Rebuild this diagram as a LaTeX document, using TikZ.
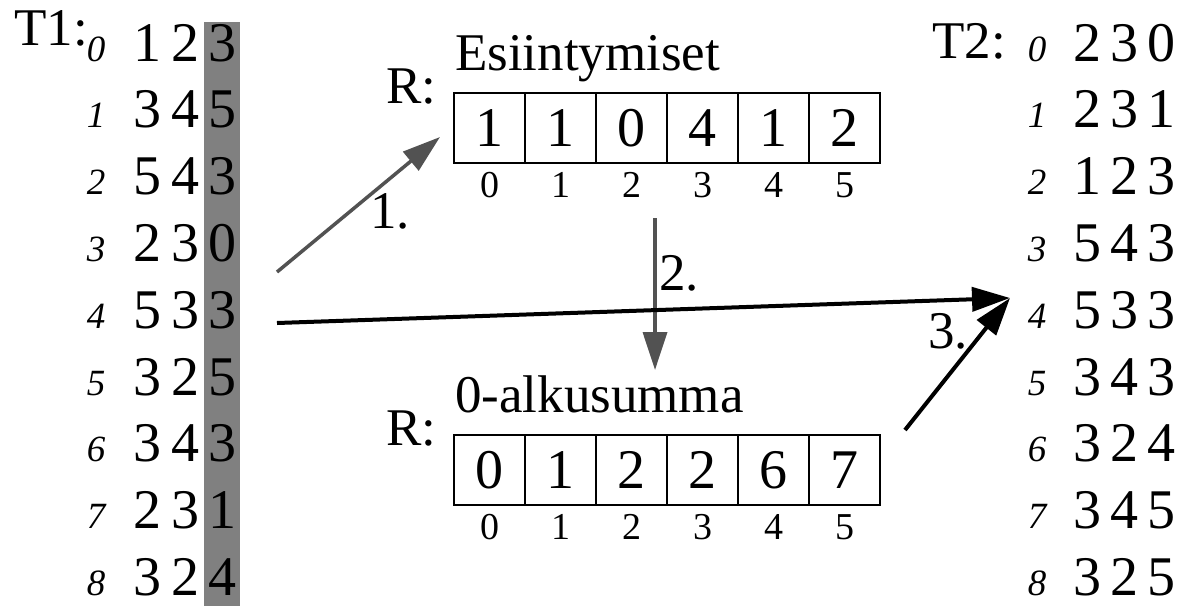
\documentclass[tikz,border=0pt]{standalone}
\usepackage{fontspec}
\setmainfont{Liberation Serif}
\usetikzlibrary{arrows.meta}
\begin{document}
\begin{tikzpicture}[x=1pt,y=-1pt,
  lbl/.style={font=\fontsize{56}{62}\selectfont, inner sep=0pt, anchor=base},
  ttl/.style={font=\fontsize{53}{60}\selectfont, inner sep=0pt, anchor=base west},
  idx/.style={font=\fontsize{37}{42}\selectfont\itshape, inner sep=0pt, anchor=base},
  cell/.style={draw, line width=1.5pt, minimum width=71pt, minimum height=70pt, inner sep=0pt, font=\fontsize{56}{62}\selectfont},
  cidx/.style={font=\fontsize{38}{44}\selectfont, inner sep=0pt, anchor=base},
  garrow/.style={draw=black!68, line width=3.5pt, -{Triangle[length=38pt,width=24pt]}},
  barrow/.style={draw=black, line width=4pt, -{Triangle[length=38pt,width=24pt]}},
  colbar/.style={fill=black!50, draw=none}
]
\useasboundingbox (0,0) rectangle (1180,606);
% shaded key column of T1
\path[colbar] (204,22) rectangle (240,606);
% T1
\node[ttl] (t1) at (14,45) {T1:};
\foreach \i/\a/\b/\c in {0/1/2/3,1/3/4/5,2/5/4/3,3/2/3/0,4/5/3/3,5/3/2/5,6/3/4/3,7/2/3/1,8/3/2/4}{
  \pgfmathsetmacro\yy{61+66.8*\i}
  \node[idx] (t1i\i) at (96,\yy) {\i};
  \node[lbl] (t1a\i) at (147,\yy) {\a};
  \node[lbl] (t1b\i) at (185,\yy) {\b};
  \node[lbl] (t1c\i) at (222,\yy) {\c};
}
% T2
\node[ttl] (t2) at (932,58) {T2:};
\foreach \i/\a/\b/\c in {0/2/3/0,1/2/3/1,2/1/2/3,3/5/4/3,4/5/3/3,5/3/4/3,6/3/2/4,7/3/4/5,8/3/2/5}{
  \pgfmathsetmacro\yy{61+66.8*\i}
  \node[idx] (t2i\i) at (1037,\yy) {\i};
  \node[lbl] (t2a\i) at (1087,\yy) {\a};
  \node[lbl] (t2b\i) at (1124,\yy) {\b};
  \node[lbl] (t2c\i) at (1161,\yy) {\c};
}
% R: Esiintymiset
\node[ttl] (rlab1) at (386,103) {R:};
\node[ttl] (esi) at (455,70) {Esiintymiset};
\foreach \k/\v in {0/1,1/1,2/0,3/4,4/1,5/2}{
  \node[cell] (e\k) at (489.5+71*\k,128) {\v};
  \node[cidx] (ei\k) at (489.5+71*\k,197) {\k};
}
% R: 0-alkusumma
\node[ttl] (rlab2) at (386,445) {R:};
\node[ttl] (alk) at (455,412) {0-alkusumma};
\foreach \k/\v in {0/0,1/1,2/2,3/2,4/6,5/7}{
  \node[cell] (s\k) at (489.5+71*\k,470) {\v};
  \node[cidx] (si\k) at (489.5+71*\k,539) {\k};
}
% arrows
\coordinate (a1s) at (277,272);
\coordinate (a1e) at (440,137);
\coordinate (a2s) at (655,218);
\coordinate (a2e) at (655,370);
\coordinate (a3s) at (277,323);
\coordinate (a3e) at (1010,298);
\coordinate (a4s) at (905,430);
\draw[garrow] (a1s) -- (a1e);
\draw[garrow] (a2s) -- (a2e);
\draw[barrow] (a3s) -- (a3e);
\draw[barrow] (a4s) -- (a3e);
\node[ttl] (l1) at (370,228) {1.};
\node[ttl] (l2) at (659,290) {2.};
\node[ttl] (l3) at (928,348) {3.};
\end{tikzpicture}
\end{document}
